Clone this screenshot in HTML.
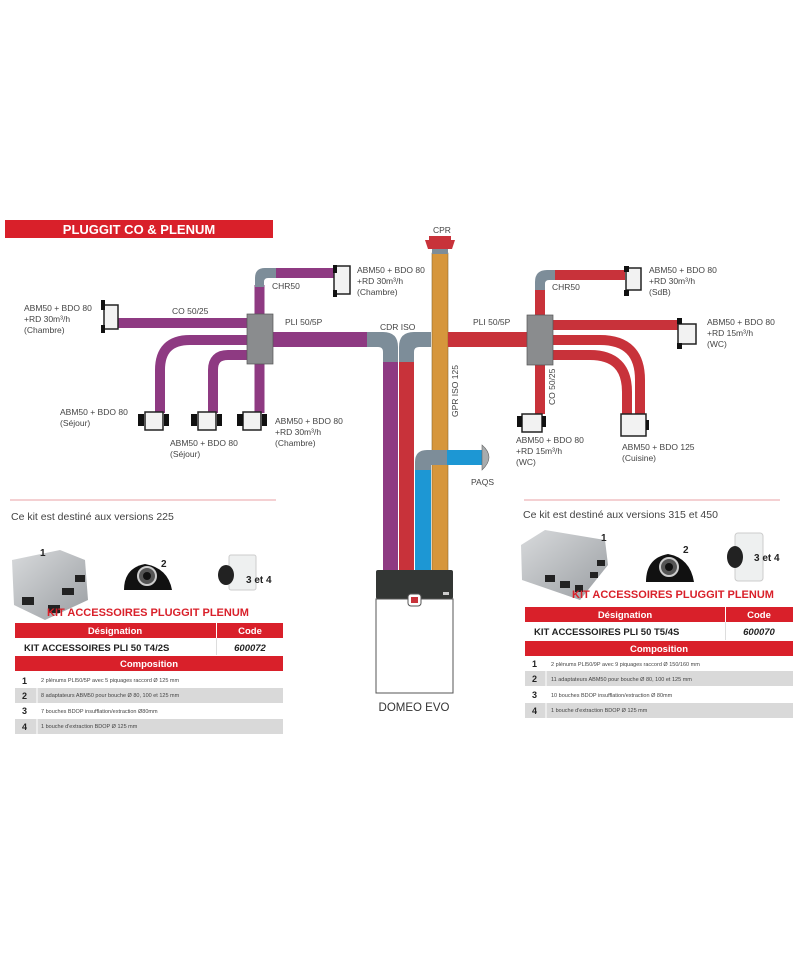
<!DOCTYPE html>
<html><head><meta charset="utf-8"><style>
html,body{margin:0;padding:0;background:#fff;}
svg{display:block;font-family:"Liberation Sans",sans-serif;}
</style></head><body>
<svg width="800" height="960" viewBox="0 0 800 960" xmlns="http://www.w3.org/2000/svg">
<defs>
<linearGradient id="box" x1="0" y1="0" x2="1" y2="1"><stop offset="0" stop-color="#d8dadc"/><stop offset="1" stop-color="#9a9ea2"/></linearGradient>
</defs>
<rect width="800" height="960" fill="#fff"/>
<!-- header -->
<rect x="5" y="220" width="268" height="18" fill="#d9202a"/>
<text x="139" y="234" fill="#fff" font-size="13" font-weight="bold" text-anchor="middle">PLUGGIT CO &amp; PLENUM</text>

<!-- LEFT purple ducts -->
<g fill="none" stroke="#8e3a82" stroke-width="10">
<line x1="118" y1="323" x2="248" y2="323"/>
<line x1="275" y1="273" x2="334" y2="273"/>
<line x1="259.5" y1="285" x2="259.5" y2="314"/>
<line x1="259.5" y1="362" x2="259.5" y2="413"/>
<path d="M248 340 H190 Q160 340 160 370 V413"/>
<path d="M248 355 H228 Q213 355 213 370 V413"/>
</g>
<rect x="272" y="332" width="96" height="15" fill="#8e3a82"/>
<path d="M255 287 V278 Q255 268 265 268 H276 V278 H268 Q264 278 264 282 V287 Z" fill="#7d8d99"/>
<rect x="247" y="314" width="26" height="50" fill="#8a8c8e" stroke="#555" stroke-width="0.7"/>
<!-- left bouches -->
<g fill="#f2f2f2" stroke="#222" stroke-width="1.5">
<rect x="104" y="305" width="14" height="24"/><rect x="334" y="266" width="16" height="28"/>
<rect x="145" y="412" width="18" height="18"/><rect x="198" y="412" width="18" height="18"/><rect x="243" y="412" width="18" height="18"/>
</g>
<g fill="#111"><rect x="101" y="300" width="4" height="10"/><rect x="101" y="325" width="4" height="8"/>
<rect x="138" y="414" width="6" height="12"/><rect x="164" y="414" width="5" height="12"/><rect x="191" y="414" width="6" height="12"/><rect x="217" y="414" width="5" height="12"/><rect x="237" y="414" width="6" height="12"/><rect x="262" y="414" width="5" height="12"/>
<rect x="333" y="265" width="4" height="8"/><rect x="333" y="290" width="4" height="7"/></g>

<!-- vertical trunks -->
<rect x="383" y="360" width="15" height="212" fill="#8e3a82"/>
<rect x="399" y="360" width="15" height="212" fill="#c8323a"/>
<rect x="415" y="464" width="16" height="108" fill="#1d97d4"/>
<rect x="432" y="253" width="16" height="319" fill="#d6963c" stroke="#8a6a30" stroke-width="0.6"/>
<!-- CDR ISO elbows -->
<path d="M367 332 H383 Q398 332 398 347 V362 H383 V352 Q383 347 378 347 H367 Z" fill="#7d8d99"/>
<path d="M431 332 H414 Q399 332 399 347 V362 H414 V352 Q414 347 419 347 H431 Z" fill="#7d8d99"/>
<!-- CPR -->
<rect x="432" y="249" width="16" height="5" fill="#7d8d99"/>
<path d="M425 240 H455 L452 249 H428 Z" fill="#c8323a"/>
<rect x="429" y="236" width="22" height="5" fill="#c8323a"/>
<!-- PAQS -->
<path d="M415 470 V462 Q415 450 427 450 H447 V465 H431 V470 Z" fill="#7d8d99"/>
<rect x="447" y="450" width="35" height="15" fill="#1d97d4"/>
<path d="M482 445 Q496 457 482 470 Z" fill="#a8acae" stroke="#666" stroke-width="0.6"/>

<!-- RIGHT red ducts -->
<rect x="448" y="332" width="80" height="15" fill="#c8323a"/>
<g fill="none" stroke="#c8323a" stroke-width="10">
<line x1="555" y1="275" x2="625" y2="275"/>
<line x1="540" y1="288" x2="540" y2="316"/>
<line x1="551" y1="325" x2="678" y2="325"/>
<line x1="540" y1="364" x2="540" y2="414"/>
<path d="M551 340 H600 Q640 340 640 380 V414"/>
<path d="M551 355 H590 Q627 355 627 392 V414"/>
</g>
<path d="M535 290 V282 Q535 270 547 270 H555 V280 H549 Q545 280 545 284 V290 Z" fill="#7d8d99"/>
<rect x="527" y="315" width="26" height="50" fill="#8a8c8e" stroke="#555" stroke-width="0.7"/>
<g fill="#f2f2f2" stroke="#222" stroke-width="1.5">
<rect x="626" y="268" width="15" height="22"/><rect x="678" y="324" width="18" height="20"/>
<rect x="522" y="414" width="20" height="18"/><rect x="621" y="414" width="25" height="22"/>
</g>
<g fill="#111"><rect x="624" y="266" width="5" height="6"/><rect x="624" y="290" width="5" height="6"/>
<rect x="677" y="318" width="5" height="6"/><rect x="677" y="343" width="5" height="6"/>
<rect x="517" y="416" width="5" height="11"/><rect x="542" y="416" width="4" height="11"/><rect x="646" y="420" width="3" height="10"/></g>

<!-- DOMEO EVO -->
<rect x="376" y="570" width="77" height="29" rx="2" fill="#333634"/>
<rect x="376" y="599" width="77" height="94" fill="#fff" stroke="#555" stroke-width="1"/>
<rect x="408" y="594" width="13" height="12" rx="3" fill="#fff" stroke="#555"/>
<rect x="411" y="597" width="7" height="6" fill="#c8323a"/>
<rect x="443" y="592" width="6" height="3" fill="#ccc"/>
<text x="414" y="711" font-size="11.5" fill="#333" text-anchor="middle">DOMEO EVO</text>

<!-- diagram labels -->
<g font-size="8.5" fill="#444">
<text x="433" y="233" text-anchor="start">CPR</text>
<text x="24" y="311">ABM50 + BDO 80</text><text x="24" y="322">+RD 30m³/h</text><text x="24" y="333">(Chambre)</text>
<text x="172" y="314">CO 50/25</text>
<text x="272" y="289">CHR50</text>
<text x="357" y="273">ABM50 + BDO 80</text><text x="357" y="284">+RD 30m³/h</text><text x="357" y="295">(Chambre)</text>
<text x="285" y="325">PLI 50/5P</text>
<text x="380" y="330">CDR ISO</text>
<text x="60" y="415">ABM50 + BDO 80</text><text x="60" y="426">(Séjour)</text>
<text x="170" y="446">ABM50 + BDO 80</text><text x="170" y="457">(Séjour)</text>
<text x="275" y="424">ABM50 + BDO 80</text><text x="275" y="435">+RD 30m³/h</text><text x="275" y="446">(Chambre)</text>
<text x="473" y="325">PLI 50/5P</text>
<text x="552" y="290">CHR50</text>
<text x="649" y="273">ABM50 + BDO 80</text><text x="649" y="284">+RD 30m³/h</text><text x="649" y="295">(SdB)</text>
<text x="707" y="325">ABM50 + BDO 80</text><text x="707" y="336">+RD 15m³/h</text><text x="707" y="347">(WC)</text>
<text x="516" y="443">ABM50 + BDO 80</text><text x="516" y="454">+RD 15m³/h</text><text x="516" y="465">(WC)</text>
<text x="622" y="450">ABM50 + BDO 125</text><text x="622" y="461">(Cuisine)</text>
<text x="471" y="485">PAQS</text>
<text transform="translate(458,417) rotate(-90)">GPR ISO 125</text>
<text transform="translate(555,405) rotate(-90)">CO 50/25</text>
</g>

<!-- separators -->
<line x1="10" y1="500" x2="276" y2="500" stroke="#e8a0a6" stroke-width="1"/>
<line x1="524" y1="500" x2="780" y2="500" stroke="#e8a0a6" stroke-width="1"/>
<text x="11" y="520" font-size="10.5" fill="#444">Ce kit est destiné aux versions 225</text>
<text x="523" y="518" font-size="10.5" fill="#444">Ce kit est destiné aux versions 315 et 450</text>

<!-- LEFT products -->
<path d="M12 560 L60 550 L85 560 L88 600 L45 620 L14 605 Z" fill="url(#box)"/>
<g fill="#222"><rect x="22" y="597" width="12" height="8"/><rect x="48" y="605" width="12" height="8"/><rect x="62" y="588" width="12" height="7"/><rect x="75" y="575" width="10" height="7"/></g>
<text x="40" y="556" font-size="10" font-weight="bold" fill="#222">1</text>
<path d="M124 590 Q124 568 145 564 Q168 568 172 590 Z" fill="#111"/>
<circle cx="147" cy="576" r="9" fill="#555" stroke="#ccc" stroke-width="2"/><circle cx="147" cy="576" r="4" fill="#111"/>
<text x="161" y="567" font-size="10" font-weight="bold" fill="#222">2</text>
<rect x="229" y="555" width="27" height="35" rx="2" fill="#eef0f0" stroke="#ccc"/>
<ellipse cx="226" cy="575" rx="8" ry="10" fill="#222"/>
<text x="246" y="583" font-size="10" font-weight="bold" fill="#222">3 et 4</text>

<text x="148" y="616" font-size="11" font-weight="bold" fill="#d9202a" text-anchor="middle">KIT ACCESSOIRES PLUGGIT PLENUM</text>
<rect x="15" y="623" width="201" height="15" fill="#d9202a"/><rect x="217" y="623" width="66" height="15" fill="#d9202a"/>
<text x="115" y="634" font-size="9.5" font-weight="bold" fill="#fff" text-anchor="middle">Désignation</text>
<text x="250" y="634" font-size="9.5" font-weight="bold" fill="#fff" text-anchor="middle">Code</text>
<line x1="216.5" y1="638" x2="216.5" y2="655" stroke="#ddd"/>
<text x="24" y="651" font-size="9.5" font-weight="bold" fill="#222">KIT ACCESSOIRES PLI 50 T4/2S</text>
<text x="250" y="651" font-size="9.5" font-weight="bold" font-style="italic" fill="#222" text-anchor="middle">600072</text>
<rect x="15" y="656" width="268" height="15" fill="#d9202a"/>
<text x="149" y="667" font-size="9.5" font-weight="bold" fill="#fff" text-anchor="middle">Composition</text>
<rect x="15" y="688" width="268" height="15" fill="#d9d9d9"/><rect x="15" y="719" width="268" height="15" fill="#d9d9d9"/>
<line x1="37" y1="688" x2="37" y2="703" stroke="#fff"/><line x1="37" y1="719" x2="37" y2="734" stroke="#fff"/>
<g font-size="9" font-weight="bold" fill="#222"><text x="22" y="684">1</text><text x="22" y="699">2</text><text x="22" y="714">3</text><text x="22" y="730">4</text></g>
<g font-size="5.5" fill="#444"><text x="41" y="682">2 plénums PLI50/5P avec 5 piquages raccord Ø 125 mm</text>
<text x="41" y="697">8 adaptateurs ABM50 pour bouche Ø 80, 100 et 125 mm</text>
<text x="41" y="713">7 bouches BDOP insufflation/extraction Ø80mm</text>
<text x="41" y="728">1 bouche d'extraction BDOP Ø 125 mm</text></g>

<!-- RIGHT products -->
<path d="M521 545 L545 530 L605 540 L608 565 L580 600 L522 580 Z" fill="url(#box)"/>
<g fill="#222"><rect x="545" y="575" width="10" height="7"/><rect x="560" y="581" width="10" height="7"/><rect x="575" y="585" width="8" height="7"/><rect x="590" y="572" width="8" height="6"/><rect x="597" y="560" width="8" height="6"/></g>
<text x="601" y="541" font-size="10" font-weight="bold" fill="#222">1</text>
<path d="M646 582 Q646 558 668 554 Q690 558 694 582 Z" fill="#111"/>
<circle cx="669" cy="567" r="9" fill="#555" stroke="#ccc" stroke-width="2"/><circle cx="669" cy="567" r="4" fill="#111"/>
<text x="683" y="553" font-size="10" font-weight="bold" fill="#222">2</text>
<rect x="735" y="533" width="28" height="48" rx="3" fill="#eef0f0" stroke="#ccc"/>
<ellipse cx="735" cy="557" rx="8" ry="11" fill="#222"/>
<text x="754" y="561" font-size="10" font-weight="bold" fill="#222">3 et 4</text>

<text x="673" y="598" font-size="11" font-weight="bold" fill="#d9202a" text-anchor="middle">KIT ACCESSOIRES PLUGGIT PLENUM</text>
<rect x="525" y="607" width="200" height="15" fill="#d9202a"/><rect x="726" y="607" width="67" height="15" fill="#d9202a"/>
<text x="625" y="618" font-size="9.5" font-weight="bold" fill="#fff" text-anchor="middle">Désignation</text>
<text x="759" y="618" font-size="9.5" font-weight="bold" fill="#fff" text-anchor="middle">Code</text>
<line x1="725.5" y1="622" x2="725.5" y2="640" stroke="#ddd"/>
<text x="534" y="635" font-size="9.5" font-weight="bold" fill="#222">KIT ACCESSOIRES PLI 50 T5/4S</text>
<text x="759" y="635" font-size="9.5" font-weight="bold" font-style="italic" fill="#222" text-anchor="middle">600070</text>
<rect x="525" y="641" width="268" height="15" fill="#d9202a"/>
<text x="659" y="652" font-size="9.5" font-weight="bold" fill="#fff" text-anchor="middle">Composition</text>
<rect x="525" y="671" width="268" height="15" fill="#d9d9d9"/><rect x="525" y="703" width="268" height="15" fill="#d9d9d9"/>
<line x1="546" y1="671" x2="546" y2="686" stroke="#fff"/><line x1="546" y1="703" x2="546" y2="718" stroke="#fff"/>
<g font-size="9" font-weight="bold" fill="#222"><text x="532" y="667">1</text><text x="532" y="682">2</text><text x="532" y="698">3</text><text x="532" y="714">4</text></g>
<g font-size="5.5" fill="#444"><text x="551" y="666">2 plénums PLI50/9P avec 9 piquages raccord  Ø 150/160 mm</text>
<text x="551" y="681">11 adaptateurs ABM50 pour bouche Ø 80, 100 et 125 mm</text>
<text x="551" y="697">10 bouches BDOP insufflation/extraction Ø 80mm</text>
<text x="551" y="712">1 bouche d'extraction BDOP Ø 125 mm</text></g>
</svg>
</body></html>
